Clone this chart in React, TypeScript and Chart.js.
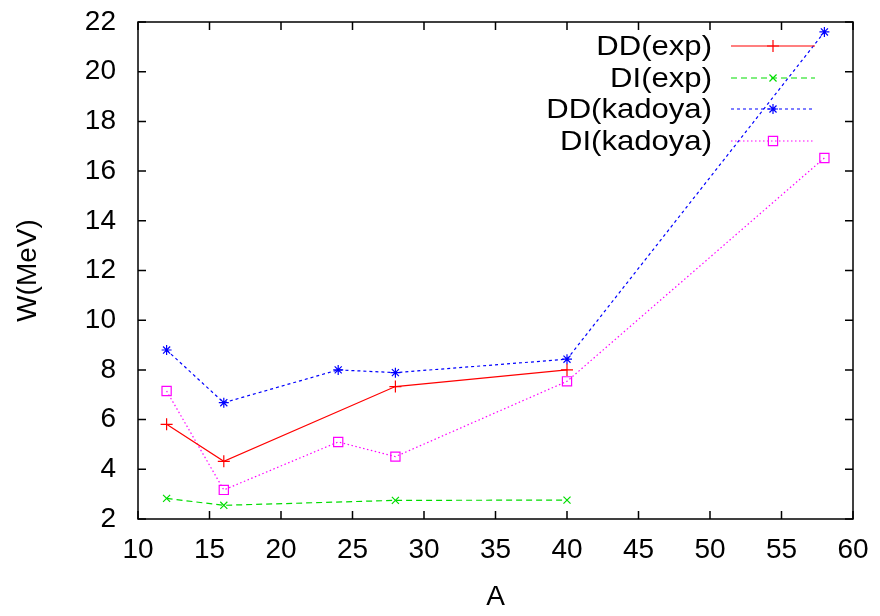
import React, { useEffect, useRef } from "react";
import { Chart, registerables } from "chart.js";

Chart.register(...registerables);

const xTicks = [10, 15, 20, 25, 30, 35, 40, 45, 50, 55, 60];
const yTicks = [2, 4, 6, 8, 10, 12, 14, 16, 18, 20, 22];

const ddExpA = [12, 16, 28, 40];
const ddExpW = [5.81, 4.32, 7.33, 8.0];

const diExpA = [12, 16, 28, 40];
const diExpW = [2.83, 2.55, 2.75, 2.76];

const ddKadA = [12, 16, 24, 28, 40, 58];
const ddKadW = [8.8, 6.68, 8.0, 7.89, 8.43, 21.6];

const diKadA = [12, 16, 24, 28, 40, 58];
const diKadW = [7.15, 3.17, 5.1, 4.51, 7.54, 16.53];

const labels = ["DD(exp)", "DI(exp)", "DD(kadoya)", "DI(kadoya)"];
const colors = ["#ff0000", "#00dd00", "#0000ff", "#ff00ff"];
const dashes: number[][] = [[], [6, 4], [3, 3], [1.5, 2.5]];
const styles = ["cross", "crossRot", "star", "rect"];
const radii = [6, 5, 5, 6.5];

const FONT = "'Liberation Sans', Arial, Helvetica, sans-serif";
const FS = 28;

function pts(a: number[], w: number[]) {
  return a.map((x, i) => ({ x, y: w[i] }));
}

function drawMarker(ctx: CanvasRenderingContext2D, style: string, x: number, y: number, r: number) {
  ctx.beginPath();
  if (style === "cross" || style === "star") {
    ctx.moveTo(x - r, y);
    ctx.lineTo(x + r, y);
    ctx.moveTo(x, y - r);
    ctx.lineTo(x, y + r);
  }
  if (style === "crossRot" || style === "star") {
    const d = r * Math.SQRT1_2;
    ctx.moveTo(x - d, y - d);
    ctx.lineTo(x + d, y + d);
    ctx.moveTo(x - d, y + d);
    ctx.lineTo(x + d, y - d);
  }
  if (style === "rect") {
    const s = r * Math.SQRT1_2;
    ctx.rect(x - s, y - s, 2 * s, 2 * s);
  }
  ctx.stroke();
}

const framePlugin = {
  id: "frame",
  afterDraw(chart: any) {
    const ctx: CanvasRenderingContext2D = chart.ctx;
    const { left, right, top, bottom } = chart.chartArea;
    const xs = chart.scales.x;
    const ys = chart.scales.y;
    ctx.save();
    ctx.strokeStyle = "#000";
    ctx.lineWidth = 1.5;
    ctx.setLineDash([]);
    ctx.strokeRect(left, top, right - left, bottom - top);
    const tl = 8;
    ctx.beginPath();
    xTicks.forEach((t) => {
      const px = xs.getPixelForValue(t);
      ctx.moveTo(px, bottom);
      ctx.lineTo(px, bottom - tl);
      ctx.moveTo(px, top);
      ctx.lineTo(px, top + tl);
    });
    yTicks.forEach((t) => {
      const py = ys.getPixelForValue(t);
      ctx.moveTo(left, py);
      ctx.lineTo(left + tl, py);
      ctx.moveTo(right, py);
      ctx.lineTo(right - tl, py);
    });
    ctx.stroke();

    // legend (gnuplot style)
    const textRight = 712;
    const lineL = 731;
    const lineR = 815;
    const rowY = [46, 78, 109, 141];
    labels.forEach((lab, i) => {
      const y = rowY[i];
      ctx.save();
      ctx.translate(textRight, y + 1);
      ctx.scale(1.11, 1);
      ctx.font = `${FS}px ${FONT}`;
      ctx.fillStyle = "#000";
      ctx.textAlign = "right";
      ctx.textBaseline = "middle";
      ctx.fillText(lab, 0, 0);
      ctx.restore();
      ctx.strokeStyle = colors[i];
      ctx.lineWidth = 1.2;
      ctx.setLineDash(dashes[i]);
      ctx.beginPath();
      ctx.moveTo(lineL, y);
      ctx.lineTo(lineR, y);
      ctx.stroke();
      ctx.setLineDash([]);
      drawMarker(ctx, styles[i], (lineL + lineR) / 2, y, radii[i]);
    });
    ctx.restore();
  },
};

export default function App() {
  const ref = useRef<HTMLCanvasElement | null>(null);
  useEffect(() => {
    document.body.style.margin = "0";
    const canvas = ref.current!;
    const series = [
      pts(ddExpA, ddExpW),
      pts(diExpA, diExpW),
      pts(ddKadA, ddKadW),
      pts(diKadA, diKadW),
    ];
    const chart = new Chart(canvas, {
      type: "line",
      data: {
        datasets: series.map((d, i) => ({
          label: labels[i],
          data: d,
          borderColor: colors[i],
          backgroundColor: "transparent",
          borderWidth: 1.2,
          borderDash: dashes[i],
          pointStyle: styles[i] as any,
          pointRadius: radii[i],
          pointBorderColor: colors[i],
          pointBackgroundColor: "transparent",
          pointBorderWidth: 1.2,
          tension: 0,
          fill: false,
        })),
      },
      options: {
        animation: false,
        responsive: false,
        maintainAspectRatio: false,
        layout: { padding: { left: 0, right: 27, top: 22, bottom: 0 } },
        plugins: {
          legend: { display: false },
          tooltip: { enabled: false },
        },
        scales: {
          x: {
            type: "linear",
            min: 10,
            max: 60,
            afterBuildTicks: (s: any) => {
              s.ticks = xTicks.map((v) => ({ value: v }));
            },
            afterFit: (s: any) => {
              s.height = 97;
              s.paddingLeft = 0;
              s.paddingRight = 0;
            },
            grid: { display: false, drawTicks: false },
            border: { display: false },
            ticks: {
              padding: 14,
              color: "#000",
              font: { family: FONT, size: FS },
              maxRotation: 0,
              autoSkip: false,
            },
            title: {
              display: true,
              text: "A",
              color: "#000",
              font: { family: FONT, size: FS },
              padding: { top: 0, bottom: 2 },
            },
          },
          y: {
            type: "linear",
            min: 2,
            max: 22,
            afterBuildTicks: (s: any) => {
              s.ticks = yTicks.map((v) => ({ value: v }));
            },
            afterFit: (s: any) => {
              s.width = 138;
              s.paddingTop = 0;
              s.paddingBottom = 0;
            },
            grid: { display: false, drawTicks: false },
            border: { display: false },
            ticks: {
              padding: 22,
              color: "#000",
              font: { family: FONT, size: FS },
              autoSkip: false,
            },
            title: {
              display: true,
              text: "W(MeV)",
              color: "#000",
              font: { family: FONT, size: FS },
              padding: { top: 11, bottom: 0 },
            },
          },
        },
      },
      plugins: [framePlugin],
    });
    return () => chart.destroy();
  }, []);
  return <canvas ref={ref} width={880} height={616} style={{ display: "block" }} />;
}
